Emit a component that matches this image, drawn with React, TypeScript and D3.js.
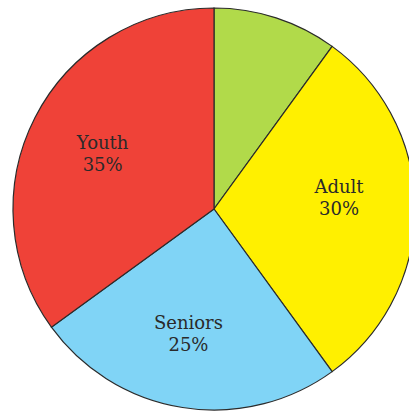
import React from "react";
import * as d3 from "d3";

const categories = ["", "Adult", "Seniors", "Youth"];
const values = [10, 30, 25, 35];
const colors = ["#b1da4a", "#fff000", "#80d4f6", "#ef4238"];

export default function App() {
  const width = 409;
  const height = 412;
  const cx = 214;
  const cy = 209;
  const r = 201;
  const data = categories.map((c, i) => ({ c, v: values[i], col: colors[i] }));
  const pie = d3.pie<any>().value((d) => d.v).sort(null);
  const arcs = pie(data);
  const arc = d3.arc<any>().innerRadius(0).outerRadius(r);
  const labelArc = d3.arc<any>().innerRadius(125).outerRadius(125);
  const nudge: Record<string, [number, number]> = { Adult: [0, -13], Seniors: [-6, 0] };
  return (
    <svg width={width} height={height} style={{ position: "absolute", left: 0, top: 0 }}>
      <g transform={`translate(${cx},${cy})`}>
        {arcs.map((a, i) => (
          <path key={i} d={arc(a) || ""} fill={a.data.col} stroke="#2b2b2b" strokeWidth={1.2} />
        ))}
        {arcs.map((a, i) => {
          if (!a.data.c) return null;
          const [x, y] = labelArc.centroid(a);
          const n = nudge[a.data.c] || [0, 0];
          return (
            <text
              key={"t" + i}
              x={x + n[0]}
              y={y + n[1]}
              textAnchor="middle"
              fontFamily="DejaVu Serif"
              fontSize={18}
              fill="#2a2a2a"
            >
              <tspan x={x + n[0]} dy={-3}>{a.data.c}</tspan>
              <tspan x={x + n[0]} dy={22}>{`${a.data.v}%`}</tspan>
            </text>
          );
        })}
      </g>
    </svg>
  );
}
